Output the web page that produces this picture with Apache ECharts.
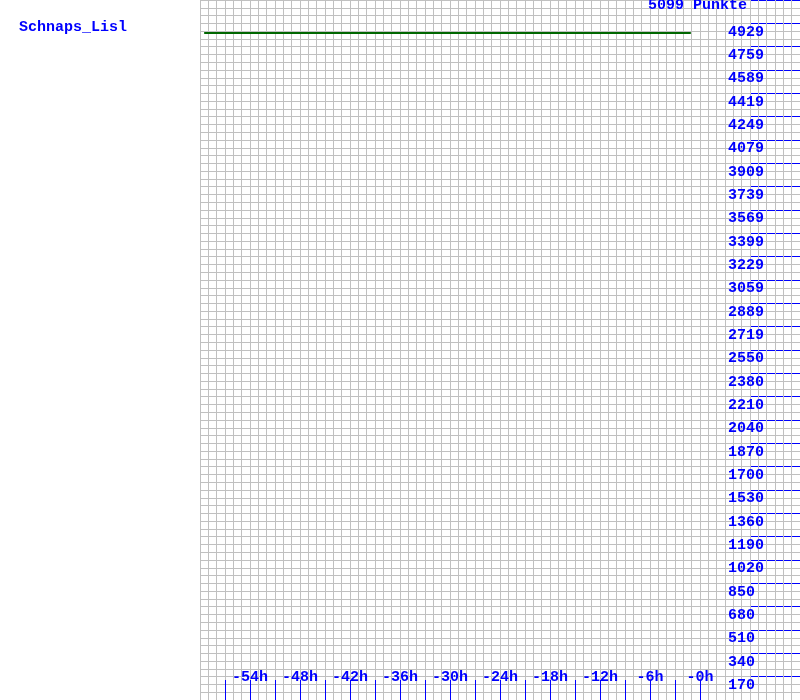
<!DOCTYPE html>
<html>
<head>
<meta charset="utf-8">
<script src="https://cdn.jsdelivr.net/npm/echarts@6/dist/echarts.min.js"></script>
<style>html,body{margin:0;padding:0;background:#fff}#c{width:800px;height:700px}</style>
</head>
<body>
<div id="c"></div>
<script>
const playerName = 'Schnaps_Lisl';
const totalPoints = 5099;
const lineHours = [-59.5, -1.1];
const lineValues = [4858, 4858];
const xTickHours = [-57, -54, -51, -48, -45, -42, -39, -36, -33, -30, -27, -24, -21, -18, -15, -12, -9, -6, -3, 0];
const xLabelHours = [-54, -48, -42, -36, -30, -24, -18, -12, -6, 0];
const yTickValues = [170, 340, 510, 680, 850, 1020, 1190, 1360, 1530, 1700, 1870, 2040, 2210, 2380, 2550, 2719, 2889, 3059, 3229, 3399, 3569, 3739, 3909, 4079, 4249, 4419, 4589, 4759, 4929];

const BLUE = '#0000ff';
const GRAY = '#c0c0c0';
const FONT = 'Liberation Mono';
const hidden = {axisLine: {show: false}, axisTick: {show: false}, axisLabel: {show: false}, splitLine: {show: false}};
const xStep = xTickHours[1] - xTickHours[0];
const ySteps = yTickValues.length + 1;

const chart = echarts.init(document.getElementById('c'), null, {renderer: 'canvas'});
chart.setOption({
  animation: false,
  backgroundColor: '#ffffff',
  title: [
    {text: totalPoints + ' Punkte', left: 648, top: -2, padding: 0,
     textStyle: {color: BLUE, fontFamily: FONT, fontSize: 15, fontWeight: 'bold'}},
    {text: playerName, left: 19, top: 20, padding: 0,
     textStyle: {color: BLUE, fontFamily: FONT, fontSize: 15, fontWeight: 'bold'}}
  ],
  grid: [
    {left: 200, right: 0, top: 0, bottom: 0, containLabel: false},
    {left: 750, right: 0, top: 0, bottom: 0, containLabel: false},
    {left: 225, right: 100, top: 680, bottom: 0, containLabel: false}
  ],
  xAxis: [
    Object.assign({}, hidden, {type: 'value', gridIndex: 0, min: -60, max: 12, position: 'bottom',
     axisLabel: {show: true, inside: true, margin: 15, customValues: xLabelHours,
                 color: BLUE, fontFamily: FONT, fontSize: 15, fontWeight: 'bold',
                 formatter: v => (v === 0 ? '-0' : String(v)) + 'h'}}),
    Object.assign({}, hidden, {type: 'value', gridIndex: 0, min: -60, max: 12, interval: 1, position: 'bottom',
     splitLine: {show: true, lineStyle: {color: GRAY, width: 1}}}),
    Object.assign({}, hidden, {type: 'value', gridIndex: 1, min: 0, max: 1}),
    Object.assign({}, hidden, {type: 'value', gridIndex: 2,
     min: xTickHours[0], max: xTickHours[xTickHours.length - 1], interval: xStep,
     splitLine: {show: true, lineStyle: {color: BLUE, width: 1}}})
  ],
  yAxis: [
    Object.assign({}, hidden, {type: 'value', gridIndex: 0, min: 0, max: totalPoints, position: 'right',
     axisLabel: {show: true, inside: true, margin: 72, customValues: yTickValues,
                 align: 'left', verticalAlign: 'top', padding: [1, 0, 0, 0],
                 color: BLUE, fontFamily: FONT, fontSize: 15, fontWeight: 'bold',
                 formatter: v => String(v)}}),
    Object.assign({}, hidden, {type: 'value', gridIndex: 0, min: 0, max: 90, interval: 1, position: 'left',
     splitLine: {show: true, lineStyle: {color: GRAY, width: 1}}}),
    Object.assign({}, hidden, {type: 'value', gridIndex: 1, min: 0, max: totalPoints, interval: totalPoints / ySteps,
     splitLine: {show: true, showMinLine: false, showMaxLine: false, lineStyle: {color: BLUE, width: 1}}}),
    Object.assign({}, hidden, {type: 'value', gridIndex: 2, min: 0, max: 1})
  ],
  series: [{
    type: 'line', xAxisIndex: 0, yAxisIndex: 0, symbol: 'none',
    data: lineHours.map((h, i) => [h, lineValues[i]]),
    lineStyle: {color: '#006600', width: 2}
  }]
});
</script>
</body>
</html>
